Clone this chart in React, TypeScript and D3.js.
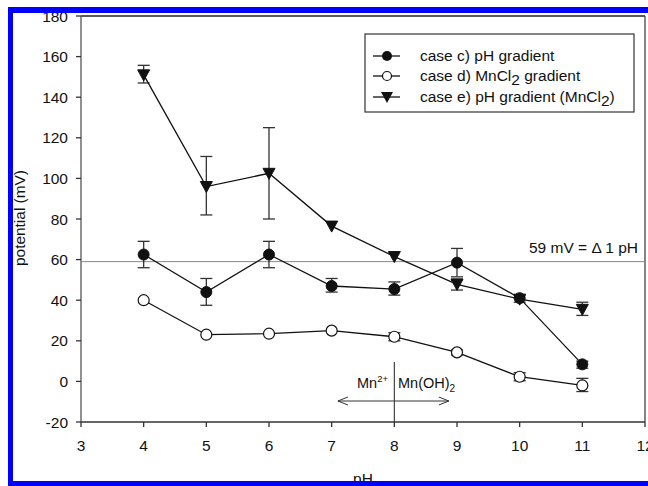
import React from "react";
import * as d3 from "d3";

const phValues = [4, 5, 6, 7, 8, 9, 10, 11];
const caseC = [62.5, 44, 62.5, 47, 45.5, 58.5, 41, 8.4];
const caseCLow = [56, 37.5, 56, 44, 42.5, 51.5, 39, 6.5];
const caseCHigh = [69, 50.7, 69, 50.7, 49, 65.5, 42.5, 10];
const caseD = [40, 23, 23.5, 25, 22, 14.3, 2.3, -2];
const caseDLow = [40, 23, 23.5, 25, 20, 13, 0.3, -5];
const caseDHigh = [40, 23, 23.5, 25, 24, 15.5, 4.3, 1.5];
const caseE = [151, 96, 102.5, 76.5, 61.5, 47.8, 40.5, 35.5];
const caseELow = [147, 82, 80, 76.5, 61.5, 45, 40.5, 32.5];
const caseEHigh = [155.7, 110.8, 125, 76.5, 61.5, 50.5, 40.5, 39];
const xTicks = [3, 4, 5, 6, 7, 8, 9, 10, 11, 12];
const yTicks = [-20, 0, 20, 40, 60, 80, 100, 120, 140, 160, 180];
const legendLabels = ["case c) pH gradient", "case d) MnCl", "case e) pH gradient (MnCl"];
const refLine = 59;

const W = 648;
const H = 486;
const L = 81, R = 645, T = 16, B = 422;
const font = "'Liberation Sans', Arial, sans-serif";
const FS = 15.5;
const TXT = "#111";

export default function App() {
  const x = d3.scaleLinear().domain([3, 12]).range([L, R]);
  const y = d3.scaleLinear().domain([-20, 180]).range([B, T]);
  const line = d3.line<number>().x((_, i) => x(phValues[i])).y((v) => y(v));

  const errBars = (vals: number[], lo: number[], hi: number[], key: string) =>
    vals.map((v, i) => {
      if (hi[i] - lo[i] < 0.5) return null;
      const cx = x(phValues[i]);
      return (
        <g key={key + i} stroke="#333" strokeWidth={1.3}>
          <line x1={cx} x2={cx} y1={y(lo[i])} y2={y(hi[i])} />
          <line x1={cx - 6} x2={cx + 6} y1={y(lo[i])} y2={y(lo[i])} />
          <line x1={cx - 6} x2={cx + 6} y1={y(hi[i])} y2={y(hi[i])} />
        </g>
      );
    });

  const tri = (cx: number, cy: number) =>
    `M${cx - 6},${cy - 5}L${cx + 6},${cy - 5}L${cx},${cy + 6}Z`;

  const legY = [56, 76, 97];
  const legX = 387;

  return (
    <svg width={W} height={H} style={{ position: "absolute", left: 0, top: 0 }} fontFamily={font}>
      <rect x={0} y={0} width={W} height={H} fill="#fff" />
      {/* frame */}
      <line x1={L} x2={R} y1={T} y2={T} stroke="#222" strokeWidth={1.3} />
      <line x1={R} x2={R} y1={T} y2={B} stroke="#444" strokeWidth={1.3} />
      <line x1={L} x2={L} y1={T} y2={B} stroke="#555" strokeWidth={1.3} />
      <line x1={L} x2={R} y1={B} y2={B} stroke="#333" strokeWidth={1.3} />
      {/* ticks */}
      {xTicks.map((t) => (
        <g key={"xt" + t}>
          <line x1={x(t)} x2={x(t)} y1={B} y2={B + 5} stroke="#333" strokeWidth={1.3} />
          <text x={x(t)} y={B + 29} fontSize={FS} textAnchor="middle" fill={TXT}>{t}</text>
        </g>
      ))}
      {yTicks.map((t) => (
        <g key={"yt" + t}>
          <line x1={L - 5} x2={L} y1={y(t)} y2={y(t)} stroke="#333" strokeWidth={1.3} />
          <text x={L - 13} y={y(t) + 5.5} fontSize={FS} textAnchor="end" fill={TXT}>{t}</text>
        </g>
      ))}
      {/* reference line */}
      <line x1={L} x2={R} y1={y(refLine)} y2={y(refLine)} stroke="#888" strokeWidth={1} />
      <text x={638} y={y(refLine) - 9} fontSize={FS} textAnchor="end" fill={TXT}>59 mV = Δ 1 pH</text>
      {/* Mn annotation */}
      <line x1={x(8)} x2={x(8)} y1={362} y2={B} stroke="#333" strokeWidth={1.1} />
      <line x1={x(8)} x2={x(7.1)} y1={401} y2={401} stroke="#333" strokeWidth={1} />
      <path d={`M${x(7.1) + 10},${397}L${x(7.1)},401L${x(7.1) + 10},405`} fill="none" stroke="#333" strokeWidth={1} />
      <line x1={x(8)} x2={x(8.87)} y1={401} y2={401} stroke="#333" strokeWidth={1} />
      <path d={`M${x(8.87) - 10},${397}L${x(8.87)},401L${x(8.87) - 10},405`} fill="none" stroke="#333" strokeWidth={1} />
      <text x={388} y={388} fontSize={14.5} textAnchor="end" fill={TXT}>
        Mn<tspan dy={-6} fontSize={9.5}>2+</tspan>
      </text>
      <text x={398} y={388} fontSize={14.5} fill={TXT}>
        Mn(OH)<tspan dy={4} fontSize={10}>2</tspan>
      </text>
      {/* error bars */}
      {errBars(caseE, caseELow, caseEHigh, "e")}
      {errBars(caseC, caseCLow, caseCHigh, "c")}
      {errBars(caseD, caseDLow, caseDHigh, "d")}
      {/* lines */}
      <path d={line(caseE) || ""} fill="none" stroke="#111" strokeWidth={1.3} />
      <path d={line(caseC) || ""} fill="none" stroke="#111" strokeWidth={1.3} />
      <path d={line(caseD) || ""} fill="none" stroke="#111" strokeWidth={1.3} />
      {/* markers */}
      {caseE.map((v, i) => (
        <path key={"me" + i} d={tri(x(phValues[i]), y(v))} fill="#111" stroke="#111" strokeWidth={1} />
      ))}
      {caseC.map((v, i) => (
        <circle key={"mc" + i} cx={x(phValues[i])} cy={y(v)} r={5.5} fill="#111" stroke="#111" strokeWidth={1} />
      ))}
      {caseD.map((v, i) => (
        <circle key={"md" + i} cx={x(phValues[i])} cy={y(v)} r={5.5} fill="#fff" stroke="#111" strokeWidth={1.2} />
      ))}
      {/* legend */}
      <rect x={365} y={34} width={269} height={78} fill="#fff" stroke="#333" strokeWidth={1.2} />
      {legY.map((ly, i) => (
        <g key={"lg" + i}>
          <line x1={373} x2={400} y1={ly} y2={ly} stroke="#111" strokeWidth={1.3} />
          {i === 0 && <circle cx={legX} cy={ly} r={5} fill="#111" />}
          {i === 1 && <circle cx={legX} cy={ly} r={4.5} fill="#fff" stroke="#111" strokeWidth={1.2} />}
          {i === 2 && <path d={tri(legX, ly)} fill="#111" />}
        </g>
      ))}
      <text x={420} y={legY[0] + 5} fontSize={FS} fill={TXT}>{legendLabels[0]}</text>
      <text x={420} y={legY[1] + 5} fontSize={FS} fill={TXT}>
        {legendLabels[1]}<tspan dy={4}>2</tspan><tspan dy={-4}> gradient</tspan>
      </text>
      <text x={420} y={legY[2] + 5} fontSize={FS} fill={TXT}>
        {legendLabels[2]}<tspan dy={4}>2</tspan><tspan dy={-4}>)</tspan>
      </text>
      {/* axis labels */}
      <text transform={`translate(25,${218}) rotate(-90)`} fontSize={14} textLength={96} lengthAdjust="spacingAndGlyphs" textAnchor="middle" fill={TXT}>potential (mV)</text>
      <text x={363} y={484} fontSize={FS} textAnchor="middle" fill={TXT}>pH</text>
      {/* blue border */}
      <rect x={8} y={7} width={640} height={6} fill="#0000ff" />
      <rect x={8} y={7} width={5} height={479} fill="#0000ff" />
      <rect x={8} y={481} width={640} height={5} fill="#0000ff" />
    </svg>
  );
}
